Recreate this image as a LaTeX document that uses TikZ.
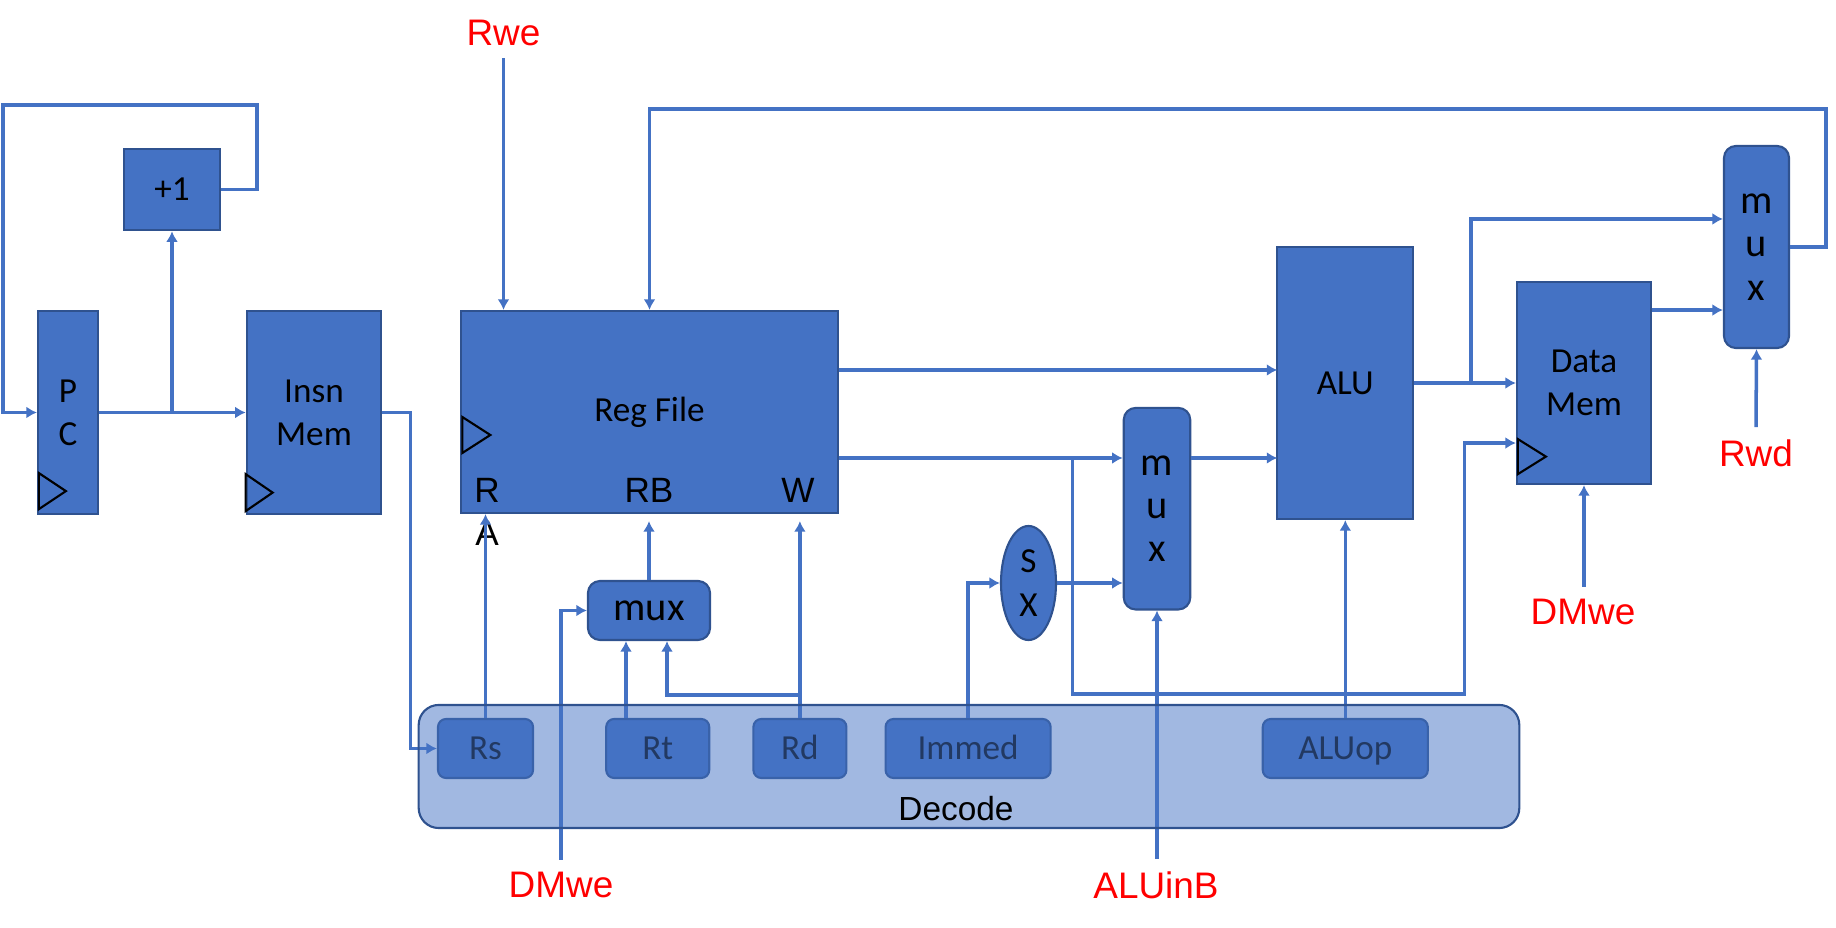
\documentclass[tikz,border=0pt]{standalone}
\usepackage{fontspec}
\setmainfont{Carlito}
\newfontfamily\arialf{Liberation Sans}
\usetikzlibrary{positioning,shapes.geometric,arrows.meta}
\definecolor{blkblue}{HTML}{4472C4}
\definecolor{blkedge}{HTML}{2F528F}

\tikzset{
  blk/.style={draw=blkedge, fill=blkblue, line width=0.6pt, inner sep=0pt, align=center,
    font=\fontsize{10}{12.3}\selectfont},
  muxblk/.style={blk, rounded corners=0.12cm, font=\fontsize{11.5}{12.3}\selectfont},
  field/.style={blk, rounded corners=0.08cm, minimum height=0.59cm, text height=0.644em, text depth=0pt},
  wire/.style={draw=blkblue, line width=1pt, -{Latex[length=3pt,width=3.4pt]}},
  ctl/.style={text=red, font=\arialf\fontsize{10.5}{12}\selectfont},
  port/.style={align=center, font=\arialf\fontsize{10}{12.2}\selectfont},
  clk/.style={draw=black, line width=0.6pt},
}

\begin{document}
\begin{tikzpicture}[x=0.01cm, y=-0.01cm]
  \useasboundingbox (0,0) rectangle (1836,928);

  % fetch
  \node[blk, minimum width=0.60cm, minimum height=2.03cm] (pc) at (68,412.5) {P\\C};
  \node[blk, minimum width=0.96cm, minimum height=0.815cm] (inc) at (172,189.5) {+1};
  \node[blk, minimum width=1.345cm, minimum height=2.03cm] (imem) at (314,412.5) {Insn\\Mem};

  % register file and its read/write ports
  \node[blk, minimum width=3.76cm, minimum height=2.02cm] (rf) at (649.5,412) {Reg File};
  \node[port] (ra) at (487,511.5) {R\\A};
  \node[port] (rb) at (649,490) {RB};
  \node[port] (wp) at (798,490) {W};
  \node[muxblk, minimum width=1.22cm, minimum height=0.59cm] (selmux) at (649,610.5) {mux};

  % execute / memory / writeback
  \node[blk, ellipse, minimum width=0.55cm, minimum height=1.14cm] (sx) at (1028.5,583) {S\\X};
  \node[muxblk, minimum width=0.665cm, minimum height=2.015cm] (alumux) at (1157,508.7) {m\\u\\x};
  \node[blk, minimum width=1.36cm, minimum height=2.72cm] (alu) at (1345.3,383) {ALU};
  \node[blk, minimum width=1.34cm, minimum height=2.02cm] (dmem) at (1584,383) {Data\\Mem};
  \node[muxblk, minimum width=0.65cm, minimum height=2.02cm] (wbmux) at (1756.5,247) {m\\u\\x};

  % decode fields
  \node[field, minimum width=0.95cm] (rs) at (485.5,748.5) {Rs};
  \node[field, minimum width=1.03cm, right=0.71cm of rs] (rt) {Rt};
  \node[field, minimum width=0.93cm, right=0.42cm of rt] (rd) {Rd};
  \node[field, minimum width=1.65cm, right=0.37cm of rd] (immed) {Immed};
  \node[field, minimum width=1.65cm] (aluop) at (alu.south |- rs) {ALUop};

  % clock marks
  \draw[clk] (pc.south west) ++(2,-42) -- ++(27,18) -- ++(-27,18) -- cycle;
  \draw[clk] (imem.south west) ++(0,-41) -- ++(27,18.5) -- ++(-27,18.5) -- cycle;
  \draw[clk] (rf.west) ++(2,5) -- ++(28,18) -- ++(-28,18) -- cycle;
  \draw[clk] (dmem.south west) ++(2,-46) -- ++(28,17.5) -- ++(-28,17.5) -- cycle;

  % control signals
  \node[ctl] (rwe) at (503.5,33) {Rwe};
  \node[ctl] (dmwe1) at (561,885) {DMwe};
  \node[ctl] (aluinb) at (1156,885) {ALUinB};
  \node[ctl] (dmwe2) at (1583,612) {DMwe};
  \node[ctl] (rwd) at (1756,453) {Rwd};

  \coordinate (pcloop) at (3,105);
  \coordinate (aluA) at (1277.3,370);
  \coordinate (aluB) at (1277.3,458);
  \coordinate (fwd) at (1072.5,458);
  \coordinate (aluout) at (1471,383);
  \coordinate (rdtap) at (801.5,695);
  \coordinate (rtin) at ([xshift=-0.23cm]selmux.south);
  \coordinate (rdin) at ([xshift=0.18cm]selmux.south);
  \coordinate (dmclk) at ([yshift=-0.6cm]dmem.west);
  \coordinate (wbA) at ([yshift=0.28cm]wbmux.west);
  \coordinate (wbB) at ([yshift=-0.63cm]wbmux.west);

  % fetch wires
  \draw[wire] (pc) -- (imem);
  \draw[wire] (inc.south |- pc.east) -- (inc.south);
  \draw[wire] (inc.east) -- ++(36,0) |- (pcloop) |- (pc.west);
  \draw[wire] (imem.east) -- ++(28,0) |- (rs.west);

  % register file wires
  \draw[wire] (rwe.south) -- (rwe.south |- rf.north);
  \draw[wire] (wbmux.east) -- ++(36,0) -- ++(0,-138) -| (rf.north);
  \draw[wire] (rs.north) -- (rs.north |- rf.south);
  \draw[wire] (rtin |- rt.north) -- (rtin);
  \draw[wire, shorten >=2pt] (rd.north) -- (rd.north |- rf.south);
  \draw[wire] (rdtap) -| (rdin);
  \draw[wire, shorten >=2pt] (selmux.north) -- (selmux.north |- rf.south);
  \draw[wire] (dmwe1.north) |- (selmux.west);

  % datapath wires
  \draw[wire] (rf.east |- aluA) -- (aluA);
  \draw[wire] (rf.east |- aluB) -- (alumux.west |- aluB);
  \draw[wire] (alumux.east |- aluB) -- (aluB);
  \draw[wire] (fwd) |- ++(392,236) |- (dmclk);
  \draw[wire] (immed.north) |- (sx.west);
  \draw[wire] (sx.east) -- (alumux.west |- sx.east);
  \draw[wire] (alumux.south |- aluinb.north) -- (alumux.south);
  \draw[wire] (aluop.north) -- (alu.south);
  \draw[wire] (alu.east) -- (dmem.west |- alu.east);
  \draw[wire] (aluout) |- (wbA);
  \draw[wire] (dmem.east |- wbB) -- (wbB);
  \draw[wire] (dmem.south |- dmwe2.north) -- (dmem.south);
  \draw[wire] (rwd.north) -- (wbmux.south);

  % decode overlay
  \node[draw=blkedge, fill=blkblue, fill opacity=0.5, text opacity=1, rounded corners=0.2cm,
    line width=0.6pt, minimum width=11.0cm, minimum height=1.23cm] (dec) at (969,766.5) {};
  \node[port, font=\arialf\fontsize{9.5}{11}\selectfont] (declbl) at (956,809) {Decode};
\end{tikzpicture}
\end{document}
